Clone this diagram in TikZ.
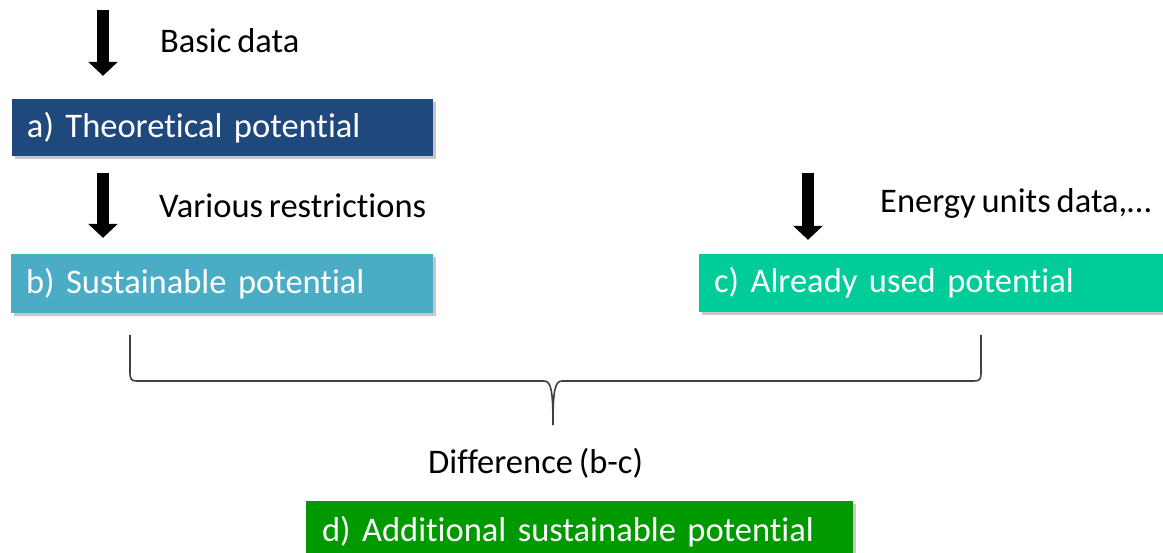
\documentclass[tikz,border=0pt]{standalone}
\usepackage{fontspec}
\setmainfont{Carlito}[Ligatures=NoCommon, WordSpace=0.75]
\usepackage{tikz}
\usetikzlibrary{arrows.meta,shadows}
\definecolor{potA}{RGB}{31,73,125}
\definecolor{potB}{RGB}{75,172,198}
\definecolor{potC}{RGB}{0,204,153}
\definecolor{potD}{RGB}{0,153,0}
\tikzstyle{potbox}=[rectangle, text=white, inner xsep=15pt, align=left,
  drop shadow={shadow xshift=3pt, shadow yshift=-3pt, fill=black, opacity=0.22}]
\tikzstyle{note}=[anchor=base west, inner sep=0pt, text=black]
\tikzstyle{bigarrow}=[line width=12pt, -{Triangle[width=29pt,length=14pt]}]

\begin{document}
\begin{tikzpicture}[x=1pt, y=-1pt, font=\fontsize{34.5}{40}\selectfont]
            \useasboundingbox (0,0) rectangle (1163,553);
            % Cajas
            \node[potbox, fill=potA, minimum width=421pt, minimum height=57pt, text width=391pt] (a) at (222.5,127.5) {a) Theoretical potential};
            \node[potbox, fill=potB, minimum width=422pt, minimum height=59pt, text width=392pt] (b) at (222,283.5) {b) Sustainable potential};
            \node[potbox, fill=potC, minimum width=476pt, minimum height=58pt, text width=446pt] (c) at (937,283) {c) Already used potential};
            \node[potbox, fill=potD, minimum width=547pt, minimum height=61pt, text width=515pt] (d) at (579.5,531.5) {d) Additional sustainable potential};
            % Textos
            \node[note] (basic) at (160,53) {Basic data};
            \node[note] (restr) at (159,218) {Various restrictions};
            \node[note] (units) at (880,213) {Energy units data,…};
            \node[note] (diff) at (428,474) {Difference (b-c)};
            % Flechas
            \coordinate (inA) at (103,10);
            \coordinate (inB) at (103,173);
            \coordinate (inC) at (808,173);
            \draw[bigarrow, shorten >=23pt] (inA) -- (inA |- a.north);
            \draw[bigarrow, shorten >=16pt] (inB) -- (inB |- b.north);
            \draw[bigarrow, shorten >=14pt] (inC) -- (inC |- c.north);
            % Llave
            \draw[line width=1.6pt, black!75] (130,335) -- (130,372) .. controls (130,379) and (131,381) .. (137,381)
              -- (544,381) .. controls (551,381) and (553,390) .. (553,425)
              .. controls (553,390) and (555,381) .. (562,381) -- (974,381)
              .. controls (980,381) and (981,379) .. (981,372) -- (981,335);
        \end{tikzpicture}
\end{document}
